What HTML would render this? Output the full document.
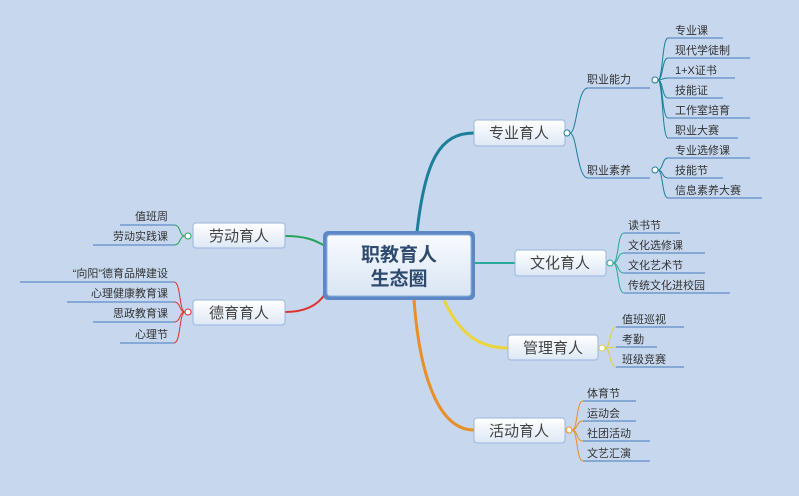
<!DOCTYPE html>
<html><head><meta charset="utf-8"><style>
html,body{margin:0;padding:0;background:#c6d7ee;}
svg{display:block}
text{font-family:"Liberation Sans","Noto Sans CJK SC",sans-serif;fill:#333;}
.leaf{font-size:11px;}
.node{font-size:15px;fill:#444;}
</style></head><body>
<svg width="799" height="496" viewBox="0 0 799 496" xmlns="http://www.w3.org/2000/svg">
<defs>
<linearGradient id="g" x1="0" y1="0" x2="0" y2="1"><stop offset="0" stop-color="#ffffff"/><stop offset="1" stop-color="#dde8f5"/></linearGradient>
<linearGradient id="gc" x1="0" y1="0" x2="0" y2="1"><stop offset="0" stop-color="#f8fbff"/><stop offset="1" stop-color="#d9e5f4"/></linearGradient>
</defs>
<rect width="799" height="496" fill="#c6d7ee"/>

<path d="M417 232 C425 160 440 133 474 133" stroke="#1c7f99" stroke-width="3" fill="none"/>
<path d="M475 263 L515 263" stroke="#2aa99a" stroke-width="2" fill="none"/>
<path d="M444 300 C460 335 480 348 508 348" stroke="#ecd53c" stroke-width="3" fill="none"/>
<path d="M414 300 C420 380 440 430 474 430" stroke="#e98f28" stroke-width="3" fill="none"/>
<path d="M285 236 C305 236 315 240 325 246" stroke="#27a35a" stroke-width="2" fill="none"/>
<path d="M285 312 C305 312 318 305 325 294" stroke="#e03030" stroke-width="2" fill="none"/>

<rect x="323" y="231" width="152" height="69" rx="5" fill="#5c88c8"/>
<rect x="327" y="235" width="144" height="61" rx="3" fill="url(#gc)" stroke="#8fb0dc" stroke-width="1"/>
<text x="399" y="261" text-anchor="middle" font-size="19" font-weight="bold" style="fill:#2e4a6e">职教育人</text>
<text x="399" y="285" text-anchor="middle" font-size="19" font-weight="bold" style="fill:#2e4a6e">生态圈</text>

<g stroke="#9bb6db" stroke-width="1" fill="url(#g)">
<rect x="474" y="120" width="91" height="26" rx="3"/>
<rect x="515" y="250" width="91" height="26" rx="3"/>
<rect x="508" y="335" width="90" height="25" rx="3"/>
<rect x="474" y="418" width="91" height="25" rx="3"/>
<rect x="193" y="223" width="92" height="25" rx="3"/>
<rect x="193" y="300" width="92" height="25" rx="3"/>
</g>
<text class="node" x="519" y="138" text-anchor="middle">专业育人</text>
<text class="node" x="560" y="268" text-anchor="middle">文化育人</text>
<text class="node" x="553" y="353" text-anchor="middle">管理育人</text>
<text class="node" x="519" y="436" text-anchor="middle">活动育人</text>
<text class="node" x="239" y="241" text-anchor="middle">劳动育人</text>
<text class="node" x="239" y="318" text-anchor="middle">德育育人</text>

<!-- brackets -->
<g fill="none" stroke="#1c7f99" stroke-width="1">
<path d="M570 133 C577 133 577 88 588 88"/>
<path d="M570 133 C577 133 577 178 588 178"/>
<path d="M658 80 C663 80 662 38 668 38"/>
<path d="M658 80 C663 80 662 58 668 58"/>
<path d="M658 80 C663 80 662 78 668 78"/>
<path d="M658 80 C663 80 662 98 668 98"/>
<path d="M658 80 C663 80 662 118 668 118"/>
<path d="M658 80 C663 80 662 138 668 138"/>
<path d="M658 170 C663 170 662 158 668 158"/>
<path d="M658 170 C663 170 662 178 668 178"/>
<path d="M658 170 C663 170 662 198 668 198"/>
</g>
<g fill="none" stroke="#2aa99a" stroke-width="1">
<path d="M613 263 C619 263 617 233 624 233"/>
<path d="M613 263 C619 263 617 253 624 253"/>
<path d="M613 263 C619 263 617 273 624 273"/>
<path d="M613 263 C619 263 617 293 624 293"/>
</g>
<g fill="none" stroke="#e5cf3a" stroke-width="1">
<path d="M605 348 C611 348 609 327 616 327"/>
<path d="M605 348 L616 347"/>
<path d="M605 348 C611 348 609 367 616 367"/>
</g>
<g fill="none" stroke="#e98f28" stroke-width="1">
<path d="M572 430 C578 430 576 401 583 401"/>
<path d="M572 430 C578 430 576 421 583 421"/>
<path d="M572 430 C578 430 576 441 583 441"/>
<path d="M572 430 C578 430 576 461 583 461"/>
</g>
<g fill="none" stroke="#27a35a" stroke-width="1">
<path d="M185 236 C179 236 181 225 174 225"/>
<path d="M185 236 C179 236 181 245 174 245"/>
</g>
<g fill="none" stroke="#e03030" stroke-width="1">
<path d="M185 312 C179 312 181 282 174 282"/>
<path d="M185 312 C179 312 181 302 174 302"/>
<path d="M185 312 C179 312 181 322 174 322"/>
<path d="M185 312 C179 312 181 343 174 343"/>
</g>

<!-- underlines -->
<g stroke="#5f8bc4" stroke-width="1.3" fill="none">
<path d="M588 88 H650 M588 178 H650"/>
<path d="M668 38 H723 M668 58 H750 M668 78 H735 M668 98 H723 M668 118 H750 M668 138 H738 M668 158 H750 M668 178 H723 M668 198 H762"/>
<path d="M624 233 H680 M624 253 H705 M624 273 H705 M624 293 H730"/>
<path d="M616 327 H684 M616 347 H657 M616 367 H684"/>
<path d="M583 401 H636 M583 421 H636 M583 441 H650 M583 461 H650"/>
<path d="M174 225 H120 M174 245 H93"/>
<path d="M174 282 H20 M174 302 H67 M174 322 H93 M174 343 H120"/>
</g>

<g fill="#fff" stroke-width="1">
<circle cx="567" cy="133" r="3" stroke="#1c7f99"/><circle cx="655" cy="80" r="3" stroke="#1c7f99"/><circle cx="655" cy="170" r="3" stroke="#1c7f99"/>
<circle cx="610" cy="263" r="3" stroke="#2aa99a"/>
<circle cx="602" cy="348" r="3" stroke="#e5cf3a"/>
<circle cx="569" cy="430" r="3" stroke="#e98f28"/>
<circle cx="188" cy="236" r="3" stroke="#27a35a"/>
<circle cx="188" cy="312" r="3" stroke="#e03030"/>
</g>

<text class="leaf" x="587" y="83">职业能力</text>
<text class="leaf" x="587" y="174">职业素养</text>
<text class="leaf" x="675" y="34">专业课</text>
<text class="leaf" x="675" y="54">现代学徒制</text>
<text class="leaf" x="675" y="74">1+X证书</text>
<text class="leaf" x="675" y="94">技能证</text>
<text class="leaf" x="675" y="114">工作室培育</text>
<text class="leaf" x="675" y="134">职业大赛</text>
<text class="leaf" x="675" y="154">专业选修课</text>
<text class="leaf" x="675" y="174">技能节</text>
<text class="leaf" x="675" y="194">信息素养大赛</text>
<text class="leaf" x="628" y="229">读书节</text>
<text class="leaf" x="628" y="249">文化选修课</text>
<text class="leaf" x="628" y="269">文化艺术节</text>
<text class="leaf" x="628" y="289">传统文化进校园</text>
<text class="leaf" x="622" y="323">值班巡视</text>
<text class="leaf" x="622" y="343">考勤</text>
<text class="leaf" x="622" y="363">班级竞赛</text>
<text class="leaf" x="587" y="397">体育节</text>
<text class="leaf" x="587" y="417">运动会</text>
<text class="leaf" x="587" y="437">社团活动</text>
<text class="leaf" x="587" y="457">文艺汇演</text>
<text class="leaf" x="168" y="220" text-anchor="end">值班周</text>
<text class="leaf" x="168" y="240" text-anchor="end">劳动实践课</text>
<text class="leaf" x="168" y="277" text-anchor="end">“向阳”德育品牌建设</text>
<text class="leaf" x="168" y="297" text-anchor="end">心理健康教育课</text>
<text class="leaf" x="168" y="317" text-anchor="end">思政教育课</text>
<text class="leaf" x="168" y="338" text-anchor="end">心理节</text>
</svg>
</body></html>
